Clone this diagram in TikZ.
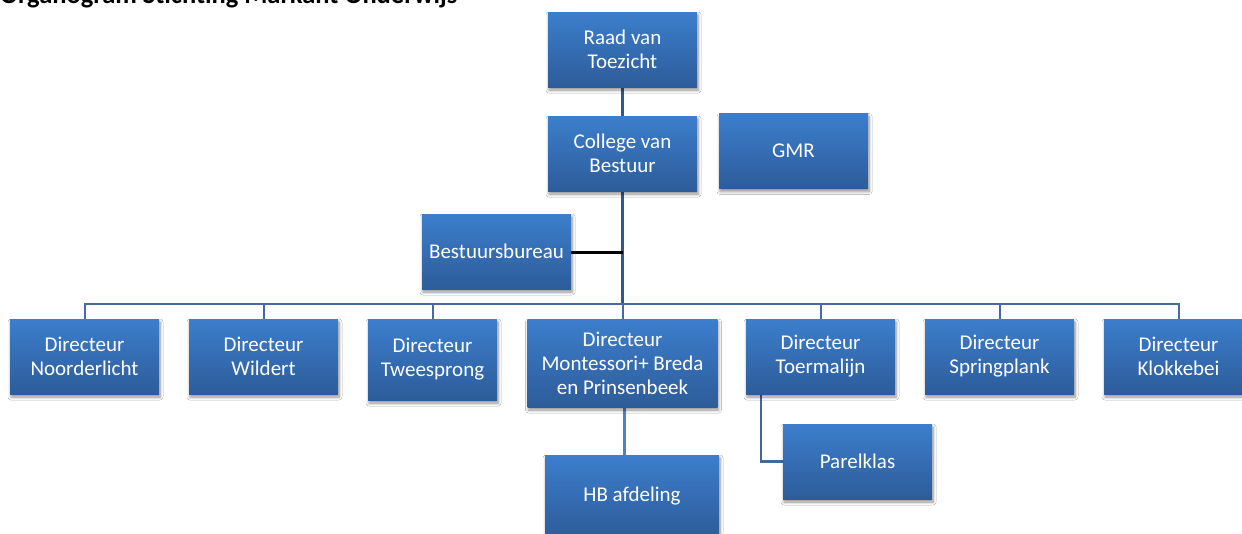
\documentclass[tikz,border=0pt]{standalone}
\usepackage{fontspec}
\setmainfont{Carlito}
\usetikzlibrary{shadows.blur,backgrounds}
\definecolor{boxtop}{RGB}{60,126,204}
\definecolor{boxbot}{RGB}{45,92,154}
\definecolor{linedark}{RGB}{47,88,140}
\definecolor{linemid}{RGB}{70,106,155}
\definecolor{linelight}{RGB}{80,130,195}
\tikzset{
  orgbox/.style={rectangle, inner sep=0pt, align=center, text=white,
    top color=boxtop, bottom color=boxbot, draw=none,
    font=\fontsize{21}{24}\selectfont,
    blur shadow={shadow blur steps=6, shadow xshift=1pt, shadow yshift=-3pt, shadow opacity=45, shadow blur radius=3pt}},
  w149/.style={minimum width=149pt, minimum height=75pt},
  topline/.style={draw=linedark, line width=3pt},
  busline/.style={draw=linemid, line width=2pt},
  blackline/.style={draw=black, line width=3pt},
  hbline/.style={draw=linelight, line width=3pt},
}
\begin{document}
\begin{tikzpicture}[x=1pt,y=-1pt]
\useasboundingbox (0,0) rectangle (1242,533);
\clip (0,0) rectangle (1242,533);
\node[anchor=base west, font=\fontsize{26.5}{30}\selectfont\bfseries, inner sep=0pt] (title) at (0,3.5) {Organogram Stichting Markant Onderwijs};

\node[orgbox, w149] (raad) at (622.5,49.5) {Raad van\\Toezicht};
\node[orgbox, w149] (college) at (622.5,153.5) {College van\\Bestuur};
\node[orgbox, w149] (gmr) at (793.5,151) {GMR};
\node[orgbox, w149] (bureau) at (496.5,251.5) {Bestuursbureau};
\node[orgbox, w149] (noord) at (84.5,356.5) {Directeur\\Noorderlicht};
\node[orgbox, w149] (wildert) at (263.5,356.5) {Directeur\\Wildert};
\node[orgbox, minimum width=129pt, minimum height=81pt] (twee) at (432.5,359.5) {Directeur\\Tweesprong};
\node[orgbox, minimum width=190pt, minimum height=88pt] (mont) at (622.5,363) {Directeur\\Montessori+ Breda\\en Prinsenbeek};
\node[orgbox, w149] (toerm) at (820.5,356.5) {Directeur\\Toermalijn};
\node[orgbox, w149] (spring) at (999.5,356.5) {Directeur\\Springplank};
\node[orgbox, w149] (klok) at (1178.5,356.5) {Directeur\\Klokkebei};
\node[orgbox, w149] (parel) at (857.5,461.5) {Parelklas};
\node[orgbox, minimum width=174pt, minimum height=82pt] (hb) at (632,496) {HB afdeling};

\coordinate (bus) at (622.5,304);
\coordinate (joint) at (622.5,252);
\coordinate (hbtop) at (624,455);

\begin{pgfonlayer}{background}
\fill[white] (0,0) rectangle (1242,533);
\draw[topline] (raad.south) -- (college.north);
\draw[topline] (college.south) -- (bus);
\draw[blackline] (bureau.east |- joint) -- (joint);
\draw[busline] (noord.north) |- (bus);
\draw[busline] (wildert.north) |- (bus);
\draw[busline] (twee.north) |- (bus);
\draw[busline] (mont.north) -- (bus);
\draw[busline] (toerm.north) |- (bus);
\draw[busline] (spring.north) |- (bus);
\draw[busline] (klok.north) |- (bus);
\draw[hbline] (mont.south -| hbtop) -- (hbtop);
\draw[draw=linelight!80!black, line width=2.5pt] (toerm.south -| 761,0) |- (parel.west);
\end{pgfonlayer}
\end{tikzpicture}
\end{document}
